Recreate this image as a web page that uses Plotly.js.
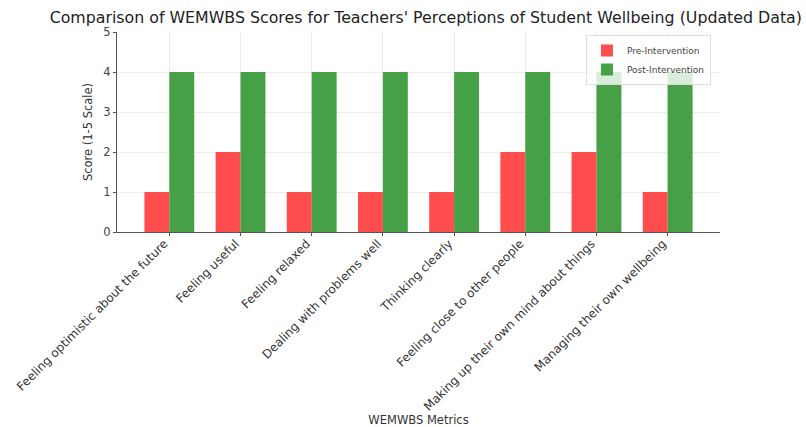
<!DOCTYPE html>
<html><head><meta charset="utf-8">
<script src="https://cdn.plot.ly/plotly-3.0.1.min.js"></script>
<style>html,body{margin:0;padding:0;background:#fff}#c{width:806px;height:427px}</style>
</head><body><div id="c"></div>
<script>
const categories = ["Feeling optimistic about the future","Feeling useful","Feeling relaxed","Dealing with problems well","Thinking clearly","Feeling close to other people","Making up their own mind about things","Managing their own wellbeing"];
const preIntervention = [1,2,1,1,1,2,2,1];
const postIntervention = [4,4,4,4,4,4,4,4];
const yTicks = [0,1,2,3,4,5];

const font = "DejaVu Sans, sans-serif";
const data = [
  {type:'bar', name:'Pre-Intervention', x:categories, y:preIntervention, marker:{color:'#ff4d4d', line:{width:0}}},
  {type:'bar', name:'Post-Intervention', x:categories, y:postIntervention, marker:{color:'#46a046', line:{width:0}}}
];
const layout = {
  width:806, height:427,
  margin:{l:117, r:86, t:32, b:195},
  paper_bgcolor:'#fff', plot_bgcolor:'#fff',
  font:{family:font, color:'#333', size:11},
  barmode:'group', bargap:0.3, bargroupgap:0,
  title:{text:"Comparison of WEMWBS Scores for Teachers' Perceptions of Student Wellbeing (Updated Data)", font:{size:15.8, color:'#222', family:font}, x:0.995, xanchor:'right', y:0.96, yanchor:'middle'},
  xaxis:{range:[-0.735, 7.735], tickangle:-45, tickfont:{size:12, color:'#333'}, showgrid:true, gridcolor:'#ebebeb', gridwidth:1,
    showline:true, linecolor:'#555', linewidth:1, ticks:'outside', ticklen:3, tickcolor:'#555', zeroline:false,
    ticklabelshift:-5, ticklabelstandoff:-4,
    title:{text:'WEMWBS Metrics', font:{size:11.5, color:'#333'}, standoff:6}, automargin:false},
  yaxis:{range:[0,5], tickvals:yTicks, ticktext:yTicks.map(String), tickfont:{size:11.5, color:'#444'}, showgrid:true, gridcolor:'#ebebeb',
    showline:true, linecolor:'#555', linewidth:1, ticks:'outside', ticklen:3, tickcolor:'#555', zeroline:false,
    title:{text:'Score (1-5 Scale)', font:{size:11.5, color:'#333'}, standoff:8}, automargin:false},
  legend:{x:0.985, xanchor:'right', y:0.985, yanchor:'top', bgcolor:'rgba(255,255,255,0.8)', bordercolor:'#ddd', borderwidth:1, font:{size:9, color:'#444'}, traceorder:'normal', itemwidth:30, tracegroupgap:0},
  showlegend:true
};
Plotly.newPlot('c', data, layout, {staticPlot:true});
</script></body></html>
